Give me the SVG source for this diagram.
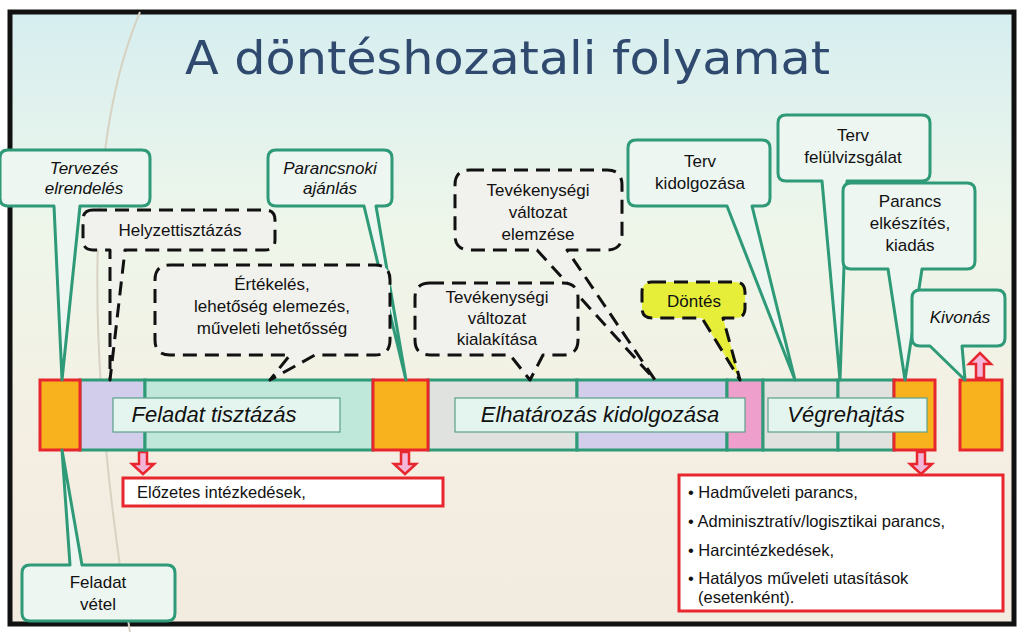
<svg xmlns="http://www.w3.org/2000/svg" width="1024" height="632" viewBox="0 0 1024 632">
<defs>
<linearGradient id="bg" x1="0" y1="0" x2="0" y2="1">
<stop offset="0" stop-color="#d6eef0"/><stop offset="0.35" stop-color="#eef6ea"/><stop offset="0.7" stop-color="#f4efe2"/><stop offset="1" stop-color="#f2ebe0"/>
</linearGradient>
</defs>
<style>
.seg{stroke:#2e9a78;stroke-width:3}
.or{fill:#f7b21e;stroke:#e8262e;stroke-width:3}
.lb{fill:#e3f5ee;stroke:#5aa08a;stroke-width:1.2}
.g{fill:#eef6f1;stroke:#2e9a78;stroke-width:3;stroke-linejoin:round}
.d{fill:#f1f1ee;stroke:#111;stroke-width:3;stroke-dasharray:14 8;stroke-linejoin:round}
.t{font-family:"Liberation Sans",Arial,sans-serif;font-size:17px;fill:#111;text-anchor:middle}
.i{font-style:italic}
.s{text-anchor:start;font-size:16.5px}
.bl{font-family:"Liberation Sans",Arial,sans-serif;font-size:22px;font-style:italic;fill:#111;text-anchor:middle}
.rb{fill:#fff;stroke:#e8262e;stroke-width:3}
.ar{fill:#f3b6d8;stroke:#e8262e;stroke-width:2.5}
</style>
<rect width="1024" height="632" fill="#fff"/>
<rect x="10" y="12" width="1004" height="612" fill="url(#bg)" stroke="#111" stroke-width="5"/>
<path d="M140 12 Q60 200 130 632" fill="none" stroke="#d8d2c2" stroke-width="2"/>
<text x="185" y="74" font-family="DejaVu Sans Condensed, DejaVu Sans, sans-serif" font-stretch="condensed" font-size="46" fill="#2f4a6e" textLength="645" lengthAdjust="spacingAndGlyphs">A döntéshozatali folyamat</text>

<g id="connectors">
<path class="ar" d="M139 452h8v12h7l-11 10-11-10h7z"/>
<path class="ar" d="M401 452h8v12h7l-11 10-11-10h7z"/>
<path class="ar" d="M917 452h8v12h7l-11 10-11-10h7z"/>
<path class="ar" d="M976 378h8v-14h7l-11-11-11 11h7z"/>
</g>

<g id="bar">
<rect x="80" y="380" width="65" height="70" fill="#d2cdea" class="seg"/>
<rect x="145" y="380" width="228" height="70" fill="#bfe8da" class="seg"/>
<rect x="428" y="380" width="149" height="70" fill="#e0e2df" class="seg"/>
<rect x="577" y="380" width="150" height="70" fill="#d2cdea" class="seg"/>
<rect x="727" y="380" width="36" height="70" fill="#ee9fcc" class="seg"/>
<rect x="763" y="380" width="75" height="70" fill="#e0e2df" class="seg"/>
<rect x="838" y="380" width="56" height="70" fill="#e0e2df" class="seg"/>
<rect x="40" y="380" width="40" height="70" class="or"/>
<rect x="373" y="380" width="55" height="70" class="or"/>
<rect x="894" y="380" width="41" height="70" class="or"/>
<rect x="960" y="380" width="42" height="70" class="or"/>
<rect x="113" y="398" width="227" height="34" class="lb"/>
<text x="214" y="422" class="bl">Feladat tisztázás</text>
<rect x="455" y="398" width="290" height="34" class="lb"/>
<text x="600" y="422" class="bl">Elhatározás kidolgozása</text>
<rect x="768" y="398" width="159" height="34" class="lb"/>
<text x="846" y="422" class="bl">Végrehajtás</text>
</g>

<g id="n-tervezes"><path class="g" d="M26 150h116q8 0 8 8v40q0 8-8 8h-62l-18 174-8-174h-46q-8 0-8-8v-40q0-8 8-8z"/>
<text class="t i" x="84" y="174">Tervezés</text><text class="t i" x="84" y="194">elrendelés</text></g>
<g id="n-parancsnoki"><path class="g" d="M276 150h108q8 0 8 8v40q0 8-8 8h-8l30 174-42-174h-88q-8 0-8-8v-40q0-8 8-8z"/>
<text class="t i" x="330" y="174">Parancsnoki</text><text class="t i" x="330" y="194">ajánlás</text></g>
<g id="n-tervkid"><path class="g" d="M636 140h126q8 0 8 8v50q0 8-8 8h-10l43 174-68-174h-91q-8 0-8-8v-50q0-8 8-8z"/>
<text class="t" x="700" y="167">Terv</text><text class="t" x="700" y="189">kidolgozása</text></g>
<g id="n-tervfel"><path class="g" d="M786 115h136q8 0 8 8v50q0 8-8 8h-75l-7 199-18-199h-36q-8 0-8-8v-50q0-8 8-8z"/>
<text class="t" x="853" y="141">Terv</text><text class="t" x="853" y="163">felülvizsgálat</text></g>
<g id="n-parancs"><path class="g" d="M851 183h116q8 0 8 8v70q0 8-8 8h-45l-17 111-17-111h-37q-8 0-8-8v-70q0-8 8-8z"/>
<text class="t" x="910" y="207">Parancs</text><text class="t" x="910" y="229">elkészítés,</text><text class="t" x="910" y="251">kiadás</text></g>
<g id="n-kivonas"><path class="g" d="M920 290h77q8 0 8 8v40q0 8-8 8h-35l3 34-35-34h-10q-8 0-8-8v-40q0-8 8-8z"/>
<text class="t i" x="960" y="323">Kivonás</text></g>
<g id="n-feladatvetel"><path class="g" d="M30 565h40l-8-115 20 115h85q8 0 8 8v40q0 8-8 8h-137q-8 0-8-8v-40q0-8 8-8z"/>
<text class="t" x="98" y="588">Feladat</text><text class="t" x="98" y="610">vétel</text></g>

<g id="n-helyzet"><path class="d" d="M93 210h172q10 0 10 10v20q0 10-10 10h-140l-15 130 0-130h-17q-10 0-10-10v-20q0-10 10-10z"/>
<text class="t" x="180" y="236">Helyzettisztázás</text></g>
<g id="n-ertekeles"><path class="d" d="M170 265h205q15 0 15 15v60q0 15-15 15h-60l-45 25 20-25h-120q-15 0-15-15v-60q0-15 15-15z"/>
<text class="t" x="272" y="290">Értékelés,</text><text class="t" x="272" y="312">lehetőség elemezés,</text><text class="t" x="272" y="334">műveleti lehetősség</text></g>
<g id="n-tevelemz"><path class="d" d="M470 170h137q15 0 15 15v50q0 15-15 15h-40l88 130-118-130h-67q-15 0-15-15v-50q0-15 15-15z"/>
<text class="t" x="538" y="196">Tevékenységi</text><text class="t" x="538" y="218">változat</text><text class="t" x="538" y="240">elemzése</text></g>
<g id="n-tevkial"><path class="d" d="M430 283h133q15 0 15 15v42q0 15-15 15h-20l-13 25-20-25h-80q-15 0-15-15v-42q0-15 15-15z"/>
<text class="t" x="497" y="303">Tevékenységi</text><text class="t" x="497" y="324">változat</text><text class="t" x="497" y="345">kialakítása</text></g>
<g id="n-dontes"><path d="M652 282h83q10 0 10 10v16q0 10-10 10h-12l17 62-38-62h-50q-10 0-10-10v-16q0-10 10-10z" fill="#e6ee3a" stroke="#111" stroke-width="3" stroke-dasharray="14 8" stroke-linejoin="round"/>
<text class="t" x="694" y="307" font-size="19">Döntés</text></g>

<g id="n-elozetes"><rect x="123" y="478" width="320" height="28" class="rb"/>
<text class="t s" x="137" y="498">Előzetes intézkedések,</text></g>
<g id="n-parancsok"><rect x="679" y="475" width="324" height="136" class="rb"/>
<text class="t s" x="688" y="498">• Hadműveleti parancs,</text>
<text class="t s" x="688" y="527">• Adminisztratív/logisztikai parancs,</text>
<text class="t s" x="688" y="556">• Harcintézkedések,</text>
<text class="t s" x="688" y="584">• Hatályos műveleti utasítások</text>
<text class="t s" x="698" y="603">(esetenként).</text>
</g>
</svg>
